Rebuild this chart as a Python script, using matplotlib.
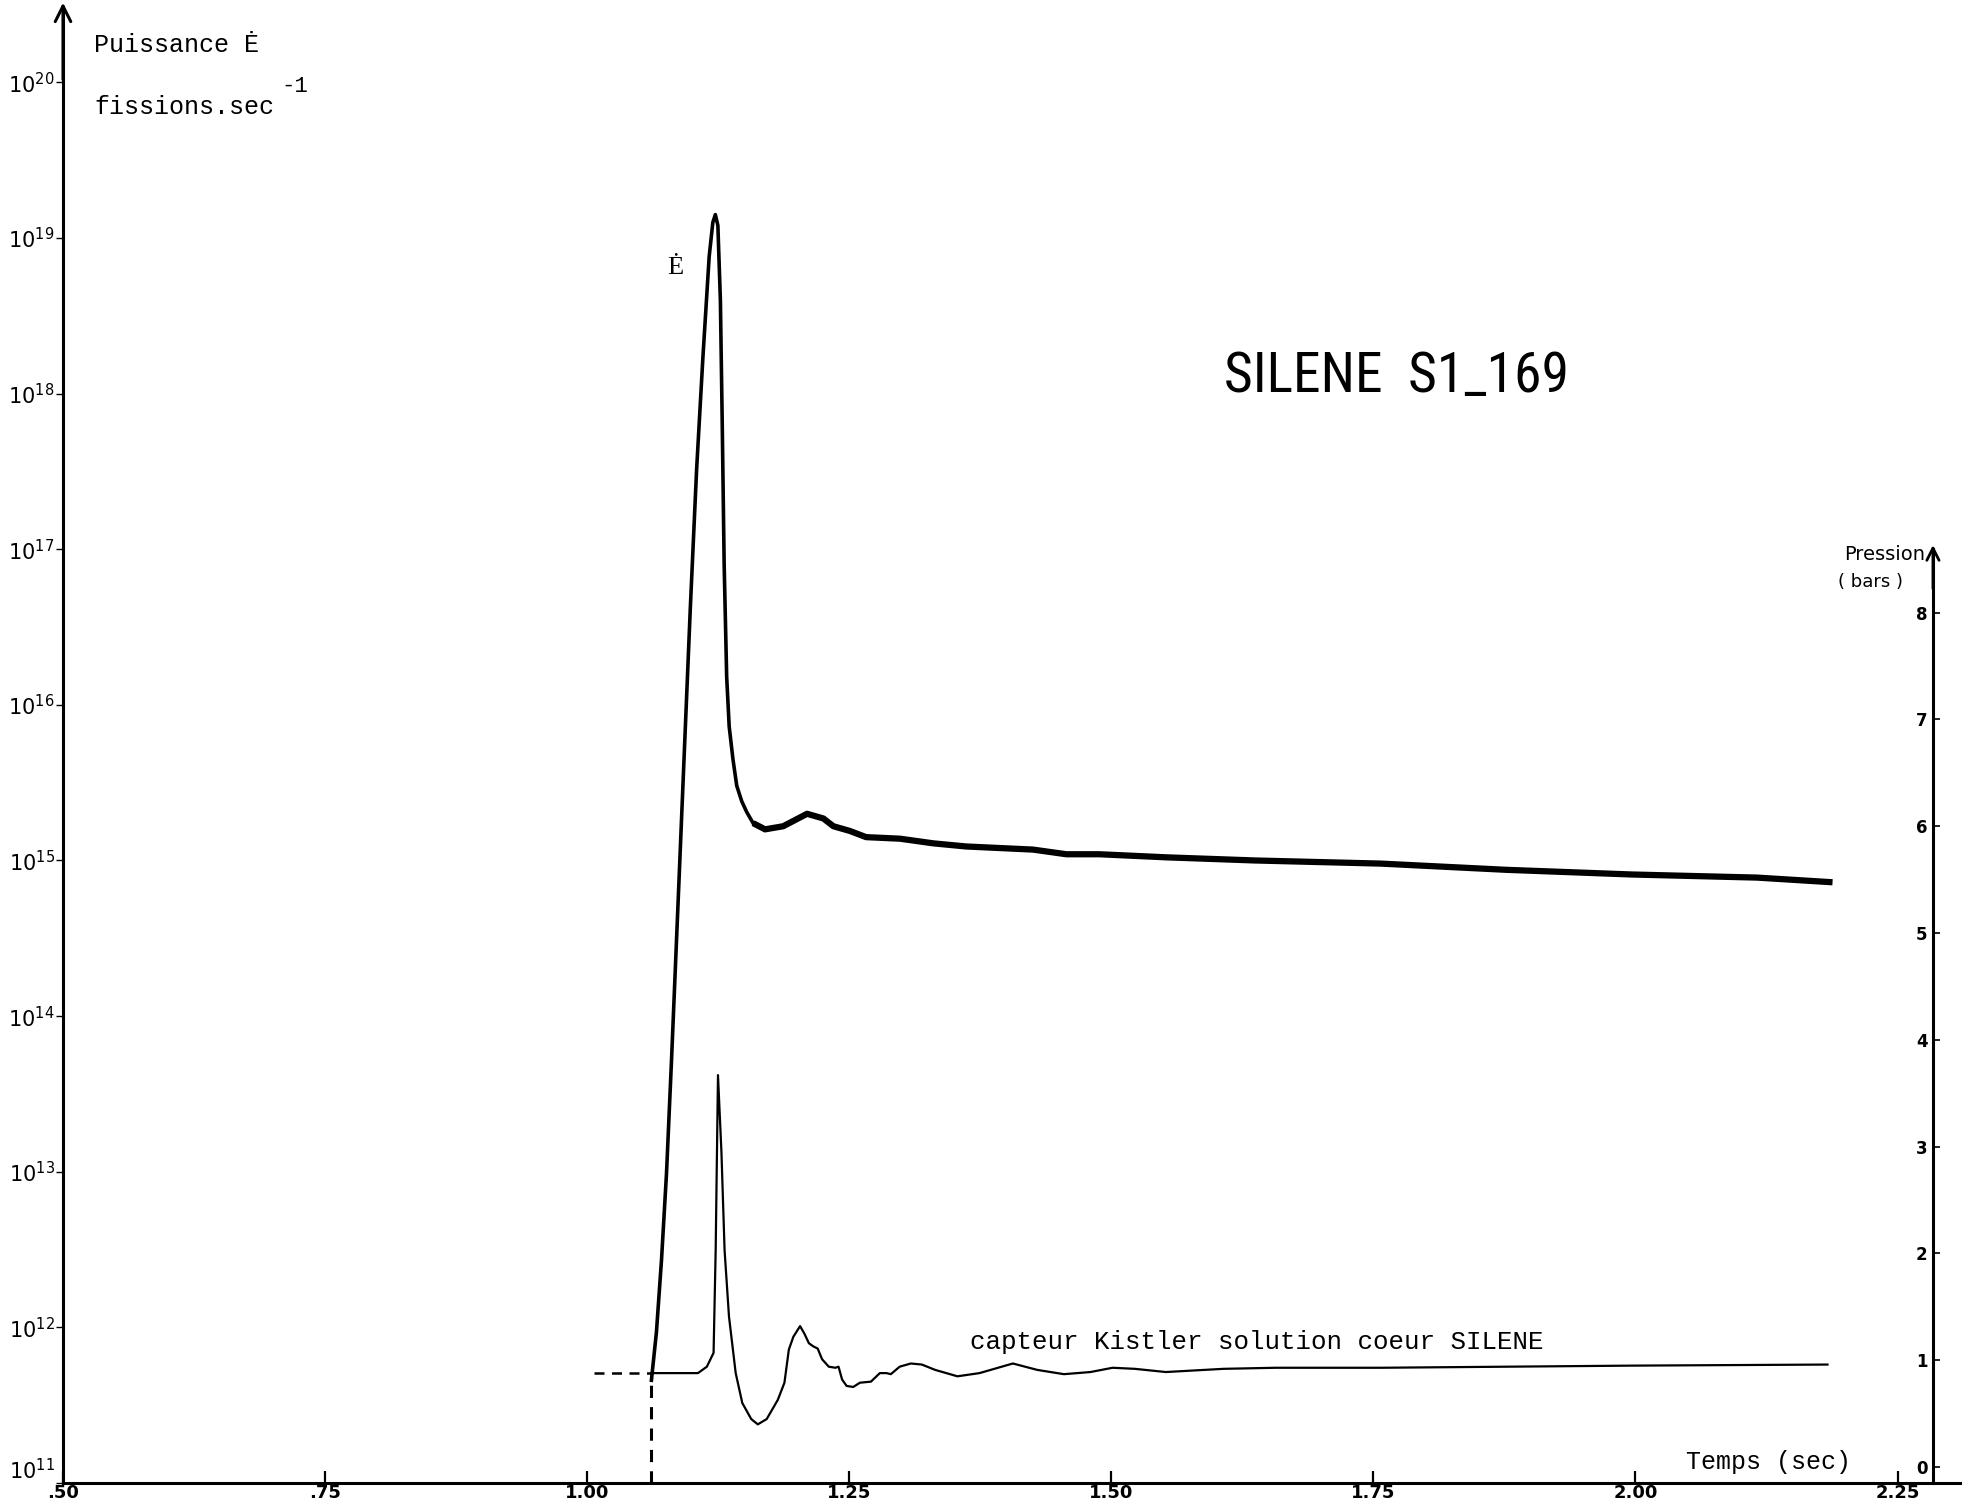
import matplotlib
matplotlib.use("Agg")
import matplotlib.pyplot as plt
from matplotlib.ticker import NullLocator
from matplotlib import font_manager

# ---------------- data ----------------
# Power E (fissions/sec) : time (s) and log10 of the power
power_t = [1.0613, 1.0661, 1.0709, 1.0757, 1.0805, 1.0865, 1.0924, 1.0984, 1.1044,
           1.1104, 1.1164, 1.1199, 1.1223, 1.1247, 1.1271, 1.1289, 1.1307, 1.1331,
           1.1355, 1.1391, 1.1427, 1.1475, 1.1523, 1.1583]
power_log = [11.66, 11.97, 12.43, 12.99, 13.72, 14.69, 15.65, 16.62, 17.51,
             18.23, 18.88, 19.10, 19.15, 19.08, 18.60, 17.79, 16.90, 16.18,
             15.86, 15.65, 15.48, 15.38, 15.31, 15.24]
# noisy tail of the power trace
tail_t = [1.1583, 1.1697, 1.1870, 1.2098, 1.2253, 1.2349, 1.2505, 1.2661, 1.2984,
          1.3303, 1.3615, 1.3934, 1.4253, 1.4571, 1.4886, 1.5210, 1.5533, 1.6373,
          1.7570, 1.8767, 1.9964, 2.1161, 2.1880]
tail_log = [15.24, 15.20, 15.22, 15.30, 15.27, 15.22, 15.19, 15.15, 15.14,
            15.11, 15.09, 15.08, 15.07, 15.04, 15.04, 15.03, 15.02, 15.00,
            14.98, 14.94, 14.91, 14.89, 14.86]
# dashed extrapolation of power below the pressure baseline
power_dash_t = [1.0613, 1.0613]
power_dash_log = [11.0, 11.66]

# Pressure (bars), Kistler sensor
press_t = [1.0613, 1.1057, 1.1142, 1.1206, 1.1226, 1.1248, 1.1281, 1.1311, 1.1353,
           1.1417, 1.1480, 1.1565, 1.1628, 1.1713, 1.1819, 1.1882, 1.1924, 1.1967,
           1.2031, 1.2072, 1.2115, 1.2158, 1.2199, 1.2241, 1.2305, 1.2368, 1.2398,
           1.2432, 1.2475, 1.2538, 1.2602, 1.2707, 1.2792, 1.2855, 1.2897, 1.2981,
           1.3088, 1.3193, 1.3320, 1.3532, 1.3743, 1.4061, 1.4294, 1.4548, 1.4801,
           1.5012, 1.5224, 1.5520, 1.6070, 1.6570, 1.7570, 1.8767, 1.9964, 2.1832]
press_p = [0.88, 0.88, 0.94, 1.07, 2.03, 3.67, 2.95, 2.03, 1.41,
           0.88, 0.60, 0.45, 0.40, 0.45, 0.63, 0.79, 1.10, 1.22,
           1.32, 1.25, 1.16, 1.13, 1.11, 1.01, 0.94, 0.93, 0.94,
           0.82, 0.76, 0.75, 0.79, 0.80, 0.88, 0.88, 0.87, 0.94,
           0.97, 0.96, 0.91, 0.85, 0.88, 0.97, 0.91, 0.87, 0.89,
           0.93, 0.92, 0.89, 0.92, 0.93, 0.93, 0.94, 0.95, 0.96]
press_dash_t = [1.0062, 1.0613]
press_dash_p = [0.88, 0.88]

x_ticks = [0.50, 0.75, 1.00, 1.25, 1.50, 1.75, 2.00, 2.25]
x_labels = [".50", ".75", "1.00", "1.25", "1.50", "1.75", "2.00", "2.25"]
y_exps = list(range(11, 21))
p_ticks = [0, 1, 2, 3, 4, 5, 6, 7, 8]

# ---------------- fonts ----------------
available = {f.name for f in font_manager.fontManager.ttflist}
narrow = None
for cand in ["Liberation Sans Narrow", "Roboto Condensed", "DejaVu Sans Condensed",
             "Open Sans Condensed"]:
    if cand in available:
        narrow = cand
        break
if narrow is not None:
    title_family, title_size = [narrow, "DejaVu Sans"], 40
else:
    title_family, title_size = ["Liberation Sans", "DejaVu Sans"], 33

# ---------------- figure ----------------
W, H = 1968, 1510
fig = plt.figure(figsize=(W / 100, H / 100), dpi=100)
fig.patch.set_facecolor("white")

X_MIN, X_MAX = 0.5, 2.3096
ax = fig.add_axes([63 / W, (H - 1483) / H, (1960 - 63) / W, 1483 / H])
ax.set_xlim(X_MIN, X_MAX)
ax.set_yscale("log")
ax.set_ylim(1e11, 10 ** 20.529)
ax.patch.set_alpha(0)

for s in ("top", "right"):
    ax.spines[s].set_visible(False)
ax.spines["left"].set_linewidth(2.2)
ax.spines["bottom"].set_linewidth(2.2)
ax.spines["left"].set_bounds(1e11, 10 ** 20.45)

ax.set_xticks(x_ticks)
ax.set_xticklabels(x_labels, fontfamily="DejaVu Sans", fontweight="bold", fontsize=13)
ax.tick_params(axis="x", direction="in", length=9, width=1.6, pad=1)
ax.set_yticks([10.0 ** k for k in y_exps])
ax.set_yticklabels([r"$10^{%d}$" % k for k in y_exps], fontsize=15)
ax.yaxis.set_minor_locator(NullLocator())
ax.tick_params(axis="y", direction="out", length=5, width=1, pad=1)
ax.get_yticklabels()[0].set_verticalalignment("bottom")

# arrow on the power axis
ax.annotate("", xy=(0, 10 ** 20.53), xycoords=("axes fraction", "data"),
            xytext=(0, 10 ** 20.0), textcoords=("axes fraction", "data"),
            arrowprops=dict(arrowstyle="->", lw=2.2, color="k", mutation_scale=28))

# power curve
ax.plot(power_t, [10 ** v for v in power_log], color="black", lw=2.6,
        solid_joinstyle="round")
ax.plot(tail_t, [10 ** v for v in tail_log], color="black", lw=4.5,
        solid_joinstyle="round", solid_capstyle="butt")
ax.plot(power_dash_t, [10 ** v for v in power_dash_log], color="black", lw=2.2,
        linestyle=(0, (4, 3)))

# pressure axis
ax2 = ax.twinx()
ax2.set_ylim(-0.149, 13.737)
ax2.set_xlim(X_MIN, X_MAX)
p_axis_frac = (2.2838 - X_MIN) / (X_MAX - X_MIN)
for s in ("top", "bottom", "right"):
    ax2.spines[s].set_visible(False)
ax2.spines["left"].set_position(("axes", p_axis_frac))
ax2.spines["left"].set_bounds(-0.149, 8.6)
ax2.spines["left"].set_linewidth(2.2)
ax2.yaxis.set_ticks_position("left")
ax2.yaxis.set_label_position("left")
ax2.set_yticks(p_ticks)
ax2.set_yticklabels([str(v) for v in p_ticks], fontfamily="DejaVu Sans",
                    fontweight="bold", fontsize=12)
ax2.tick_params(axis="y", direction="in", length=5, width=1.2, pad=4)
ax2.annotate("", xy=(p_axis_frac, 8.66), xycoords=("axes fraction", "data"),
             xytext=(p_axis_frac, 8.2), textcoords=("axes fraction", "data"),
             arrowprops=dict(arrowstyle="->", lw=2.0, color="k", mutation_scale=22))

ax2.plot(press_t, press_p, color="black", lw=1.6, solid_joinstyle="round")
ax2.plot(press_dash_t, press_dash_p, color="black", lw=1.8, linestyle=(0, (4, 3)))

# ---------------- texts ----------------
mono = ["Liberation Mono", "DejaVu Sans Mono"]
fig.text(94 / W, 1 - 45 / H, "Puissance Ė", fontfamily=mono, fontsize=18,
         ha="left", va="center")
fig.text(94 / W, 1 - 107 / H, "fissions.sec", fontfamily=mono, fontsize=18,
         ha="left", va="center")
fig.text(281 / W, 1 - 86 / H, "-1", fontfamily=mono, fontsize=16,
         ha="left", va="center")
fig.text(675 / W, 1 - 268 / H, "Ė", fontfamily=["Liberation Serif", "DejaVu Serif"],
         fontsize=19, ha="center", va="center")
fig.text(1396 / W, 1 - 377 / H, "SILENE  S1_169", fontfamily=title_family,
         fontsize=title_size, ha="center", va="center")
fig.text(970 / W, 1 - 1342 / H, "capteur Kistler solution coeur SILENE",
         fontfamily=mono, fontsize=18.6, ha="left", va="center")
fig.text(1686 / W, 1 - 1462 / H, "Temps (sec)", fontfamily=mono, fontsize=18,
         ha="left", va="center")
fig.text(1885 / W, 1 - 555 / H, "Pression", fontfamily=["Liberation Sans Narrow", "DejaVu Sans"],
         fontsize=14, ha="center", va="center")
fig.text(1870 / W, 1 - 582 / H, "( bars )", fontfamily=["Liberation Sans Narrow", "DejaVu Sans"],
         fontsize=13, ha="center", va="center")

fig.savefig("out.png", dpi=100, facecolor="white")
